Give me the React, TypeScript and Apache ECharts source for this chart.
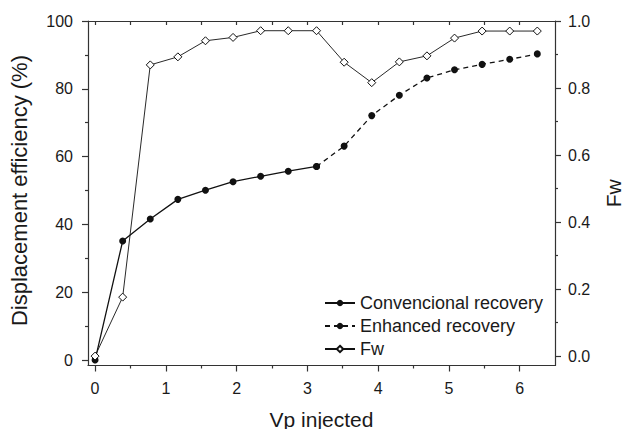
import { useEffect, useRef } from "react";
import * as echarts from "echarts";

const vpConventional = [0, 0.39, 0.78, 1.17, 1.56, 1.95, 2.34, 2.73, 3.13];
const recoveryConventional = [0, 35.1, 41.6, 47.4, 50.1, 52.6, 54.2, 55.7, 57.1];
const vpEnhanced = [3.13, 3.52, 3.91, 4.3, 4.69, 5.08, 5.47, 5.86, 6.25];
const recoveryEnhanced = [57.1, 63.1, 72.1, 78.1, 83.2, 85.6, 87.2, 88.7, 90.3];
const vpFw = [0, 0.39, 0.78, 1.17, 1.56, 1.95, 2.34, 2.73, 3.13, 3.52, 3.91, 4.3, 4.69, 5.08, 5.47, 5.86, 6.25];
const fwValues = [0, 0.176, 0.869, 0.893, 0.941, 0.951, 0.971, 0.971, 0.971, 0.877, 0.816, 0.878, 0.896, 0.949, 0.97, 0.97, 0.97];

// Axis ranges (the frame) and tick ranges
const X_MIN = -0.1;
const X_MAX = 6.5;
const X_TICK_MIN = 0;
const X_TICK_MAX = 6;
const X_INTERVAL = 1;
const L_MIN = -1.6;
const L_MAX = 100;
const L_TICK_MIN = 0;
const L_TICK_MAX = 100;
const L_INTERVAL = 20;
const R_MIN = -0.028;
const R_MAX = 1.0;
const R_TICK_MIN = 0;
const R_TICK_MAX = 1.0;
const R_INTERVAL = 0.2;

const FONT = "'Liberation Sans', Arial, sans-serif";
const AXIS_COLOR = "#333";
const TEXT_COLOR = "#1a1a1a";
const LINE_COLOR = "#111";

// Frame in pixels
const W = 625;
const H = 429;
const FRAME_L = 88;
const FRAME_R = 555;
const FRAME_T = 21;
const FRAME_B = 365.5;

export default function App() {
  const ref = useRef<HTMLDivElement>(null);

  useEffect(() => {
    if (!ref.current) return;
    const chart = echarts.init(ref.current, null, { renderer: "svg" });

    const kx = (FRAME_R - FRAME_L) / (X_MAX - X_MIN);
    const kl = (FRAME_B - FRAME_T) / (L_MAX - L_MIN);
    const kr = (FRAME_B - FRAME_T) / (R_MAX - R_MIN);

    const base = { outerBoundsMode: "none", containLabel: false };
    const mainGrid = { ...base, left: FRAME_L, right: W - FRAME_R, top: FRAME_T, bottom: H - FRAME_B };
    const gxGrid = {
      ...base,
      left: FRAME_L + (X_TICK_MIN - X_MIN) * kx,
      right: W - (FRAME_L + (X_TICK_MAX - X_MIN) * kx),
      top: FRAME_T,
      bottom: H - FRAME_B,
    };
    const glGrid = {
      ...base,
      left: FRAME_L,
      right: W - FRAME_R,
      top: FRAME_B - (L_TICK_MAX - L_MIN) * kl,
      bottom: H - (FRAME_B - (L_TICK_MIN - L_MIN) * kl),
    };
    const grGrid = {
      ...base,
      left: FRAME_L,
      right: W - FRAME_R,
      top: FRAME_B - (R_TICK_MAX - R_MIN) * kr,
      bottom: H - (FRAME_B - (R_TICK_MIN - R_MIN) * kr),
    };

    const lineStyle = { color: AXIS_COLOR, width: 1.2 };
    const frameLine = { show: true, onZero: false, lineStyle };
    const labelStyle = { color: TEXT_COLOR, fontSize: 16, fontFamily: FONT };
    const nameStyle = { fontSize: 21, fontFamily: FONT, color: TEXT_COLOR };
    const hidden = { type: "value", show: false, splitLine: { show: false } };

    const option: any = {
      animation: false,
      backgroundColor: "#fff",
      grid: [mainGrid, gxGrid, glGrid, grGrid],
      legend: {
        orient: "vertical",
        left: 319,
        top: 289,
        itemWidth: 30,
        itemHeight: 8,
        itemGap: 5,
        textStyle: { fontSize: 18, fontFamily: FONT, color: TEXT_COLOR },
        data: ["Convencional recovery", "Enhanced recovery", "Fw"],
      },
      xAxis: [
        {
          type: "value",
          gridIndex: 0,
          position: "bottom",
          min: X_MIN,
          max: X_MAX,
          axisLine: frameLine,
          axisTick: { show: false },
          axisLabel: { show: false },
          splitLine: { show: false },
          name: "Vp injected",
          nameLocation: "middle",
          nameGap: 43,
          nameTextStyle: nameStyle,
        },
        {
          type: "value",
          gridIndex: 0,
          position: "top",
          min: X_MIN,
          max: X_MAX,
          axisLine: frameLine,
          axisTick: { show: false },
          axisLabel: { show: false },
          splitLine: { show: false },
        },
        {
          type: "value",
          gridIndex: 1,
          position: "bottom",
          min: X_TICK_MIN,
          max: X_TICK_MAX,
          interval: X_INTERVAL,
          axisLine: { show: false, onZero: false },
          axisTick: { show: true, inside: false, length: 6, lineStyle },
          minorTick: { show: true, splitNumber: 2, length: 3, lineStyle },
          axisLabel: { show: true, margin: 15, ...labelStyle },
          splitLine: { show: false },
        },
        {
          type: "value",
          gridIndex: 1,
          position: "top",
          min: X_TICK_MIN,
          max: X_TICK_MAX,
          interval: X_INTERVAL / 2,
          axisLine: { show: false, onZero: false },
          axisTick: { show: true, inside: true, length: 4, lineStyle },
          axisLabel: { show: false },
          splitLine: { show: false },
        },
        { ...hidden, gridIndex: 2 },
        { ...hidden, gridIndex: 3 },
      ],
      yAxis: [
        {
          type: "value",
          gridIndex: 0,
          position: "left",
          min: L_MIN,
          max: L_MAX,
          axisLine: frameLine,
          axisTick: { show: false },
          axisLabel: { show: false },
          splitLine: { show: false },
        },
        {
          type: "value",
          gridIndex: 0,
          position: "right",
          min: R_MIN,
          max: R_MAX,
          axisLine: frameLine,
          axisTick: { show: false },
          axisLabel: { show: false },
          splitLine: { show: false },
          name: "Fw",
          nameLocation: "middle",
          nameGap: 48,
          nameTextStyle: nameStyle,
        },
        { ...hidden, gridIndex: 1 },
        {
          type: "value",
          gridIndex: 2,
          position: "left",
          min: L_TICK_MIN,
          max: L_TICK_MAX,
          interval: L_INTERVAL,
          axisLine: { show: false, onZero: false },
          axisTick: { show: true, inside: false, length: 6, lineStyle },
          minorTick: { show: true, splitNumber: 2, length: 3, lineStyle },
          axisLabel: { show: true, margin: 15, ...labelStyle },
          splitLine: { show: false },
          name: "Displacement efficiency (%)",
          nameLocation: "middle",
          nameGap: 58,
          nameTextStyle: { ...nameStyle, fontSize: 22 },
        },
        {
          type: "value",
          gridIndex: 3,
          position: "right",
          min: R_TICK_MIN,
          max: R_TICK_MAX,
          interval: R_INTERVAL,
          axisLine: { show: false, onZero: false },
          axisTick: { show: true, inside: false, length: 6, lineStyle },
          minorTick: { show: true, splitNumber: 2, length: 3, lineStyle },
          axisLabel: {
            show: true,
            margin: 13,
            formatter: (v: number) => v.toFixed(1),
            ...labelStyle,
          },
          splitLine: { show: false },
        },
      ],
      series: [
        {
          name: "Convencional recovery",
          type: "line",
          xAxisIndex: 0,
          yAxisIndex: 0,
          data: vpConventional.map((x, i) => [x, recoveryConventional[i]]),
          symbol: "circle",
          symbolSize: 7,
          itemStyle: { color: LINE_COLOR },
          lineStyle: { color: LINE_COLOR, width: 1.3 },
          z: 3,
        },
        {
          name: "Enhanced recovery",
          type: "line",
          xAxisIndex: 0,
          yAxisIndex: 0,
          data: vpEnhanced.map((x, i) => [x, recoveryEnhanced[i]]),
          symbol: "circle",
          symbolSize: 7,
          itemStyle: { color: LINE_COLOR },
          lineStyle: { color: LINE_COLOR, width: 1.3, type: [5, 4] },
          z: 3,
        },
        {
          name: "Fw",
          type: "line",
          xAxisIndex: 0,
          yAxisIndex: 1,
          data: vpFw.map((x, i) => [x, fwValues[i]]),
          symbol: "diamond",
          symbolSize: 8,
          itemStyle: { color: "#fff", borderColor: LINE_COLOR, borderWidth: 1 },
          lineStyle: { color: LINE_COLOR, width: 0.9 },
          z: 4,
        },
      ],
    };

    chart.setOption(option);
    return () => chart.dispose();
  }, []);

  return (
    <div
      ref={ref}
      style={{ position: "fixed", left: 0, top: 0, width: W, height: H, background: "#fff" }}
    />
  );
}
